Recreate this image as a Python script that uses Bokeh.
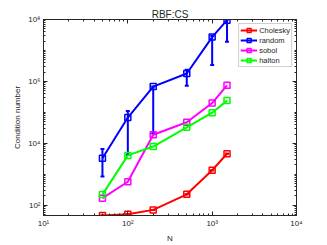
from bokeh.plotting import figure
from bokeh.models import (ColumnDataSource, Whisker, TeeHead, LogAxis, FixedTicker,
                          Legend, LegendItem, Range1d)
from bokeh.embed import file_html
from bokeh.resources import INLINE

# ---- data ----
N = [50, 100, 200, 500, 1000, 1500]
cholesky = [47, 51, 71, 226, 1350, 4620]
cholesky_lower = [47, 51, 71, 226, 1350, 4620]
cholesky_upper = [47, 51, 71, 226, 1350, 4620]
random = [3300, 68000, 680000, 1.8e6, 2.7e7, 9.5e7]
random_lower = [850, 4300, 21000, 7.2e5, 3.4e6, 1.9e7]
random_upper = [6600, 1.1e5, 680000, 2.4e6, 3.0e7, 1.0e8]
sobol = [170, 576, 19000, 48000, 2.0e5, 7.5e5]
halton = [221, 4080, 7900, 33000, 98000, 2.4e5]

x_ticks = [10, 100, 1000, 10000]
x_tick_labels = ["10\u00b9", "10\u00b2", "10\u00b3", "10\u2074"]
y_ticks = [1e2, 1e4, 1e6, 1e8]
y_tick_labels = ["10\u00b2", "10\u2074", "10\u2076", "10\u2078"]

FONT = "Liberation Sans"
AX = "#262626"

p = figure(width=327, height=245, x_axis_type="log", y_axis_type="log",
           x_range=Range1d(10, 10000), y_range=Range1d(10 ** 1.67, 1e8),
           output_backend="svg", toolbar_location=None,
           min_border_left=43, min_border_right=31, min_border_top=19, min_border_bottom=29)
p.title.text = "RBF:CS"
p.title.align = "center"
p.title.text_font = FONT
p.title.text_font_size = "10px"
p.title.text_font_style = "normal"
p.title.text_color = AX
p.title.standoff = 0
p.grid.visible = False
p.outline_line_color = AX

x_minor = [k * 10 ** d for d in range(1, 4) for k in range(2, 10)]
y_minor = [k * 10 ** d for d in range(1, 8) for k in range(1, 10) if not (k == 1 and d % 2 == 0)]

def style(ax, ticks, minor, labels, show):
    ax.ticker = FixedTicker(ticks=ticks, minor_ticks=minor)
    ax.major_label_overrides = {t: (l if show else "") for t, l in zip(ticks, labels)}
    ax.major_tick_in = 4
    ax.major_tick_out = 0
    ax.minor_tick_in = 2
    ax.minor_tick_out = 0
    ax.axis_line_color = AX
    ax.major_tick_line_color = AX
    ax.minor_tick_line_color = AX
    ax.major_label_text_font = FONT
    ax.major_label_text_color = AX
    ax.major_label_text_font_size = "8px"
    ax.major_label_standoff = 3 if show else 0
    ax.axis_label_text_font = FONT
    ax.axis_label_text_font_size = "8px"
    ax.axis_label_text_font_style = "normal"
    ax.axis_label_text_color = AX
    ax.axis_label_standoff = 3

style(p.xaxis[0], x_ticks, x_minor, x_tick_labels, True)
style(p.yaxis[0], y_ticks, y_minor, y_tick_labels, True)
p.xaxis[0].axis_label = "N"
p.yaxis[0].axis_label = "Condition number"

top = LogAxis()
right = LogAxis()
style(top, x_ticks, x_minor, x_tick_labels, False)
style(right, y_ticks, y_minor, y_tick_labels, False)
p.add_layout(top, "above")
p.add_layout(right, "right")

src_c = ColumnDataSource(dict(x=N, y=cholesky, lo=cholesky_lower, hi=cholesky_upper))
src_r = ColumnDataSource(dict(x=N, y=random, lo=random_lower, hi=random_upper))

series = [
    ("Cholesky", cholesky, "#ff0000", src_c),
    ("random", random, "#0000ff", src_r),
    ("sobol", sobol, "#ff00ff", None),
    ("halton", halton, "#00ff00", None),
]

items = []
for name, ys, col, src in series:
    if src is not None:
        w = Whisker(source=src, base="x", upper="hi", lower="lo", dimension="height",
                    line_color=col, line_width=2,
                    upper_head=TeeHead(size=4, line_color=col, line_width=2),
                    lower_head=TeeHead(size=4, line_color=col, line_width=2))
        p.add_layout(w)
    ln = p.line(N, ys, line_color=col, line_width=2)
    mk = p.scatter(N, ys, marker="square", size=6, line_color=col, line_width=1.5,
                   fill_color=None)
    items.append(LegendItem(label=name, renderers=[ln, mk]))

legend = Legend(items=items, location="top_right")
legend.label_text_font = FONT
legend.label_text_font_size = "7.5px"
legend.label_text_color = AX
legend.label_standoff = 2
legend.label_height = 10
legend.glyph_height = 10
legend.glyph_width = 17
legend.spacing = 0
legend.padding = 1
legend.margin = 4
legend.border_line_color = "#a0a0a0"
legend.background_fill_color = "white"
p.add_layout(legend)

open("out.html", "w").write(file_html(p, INLINE))
